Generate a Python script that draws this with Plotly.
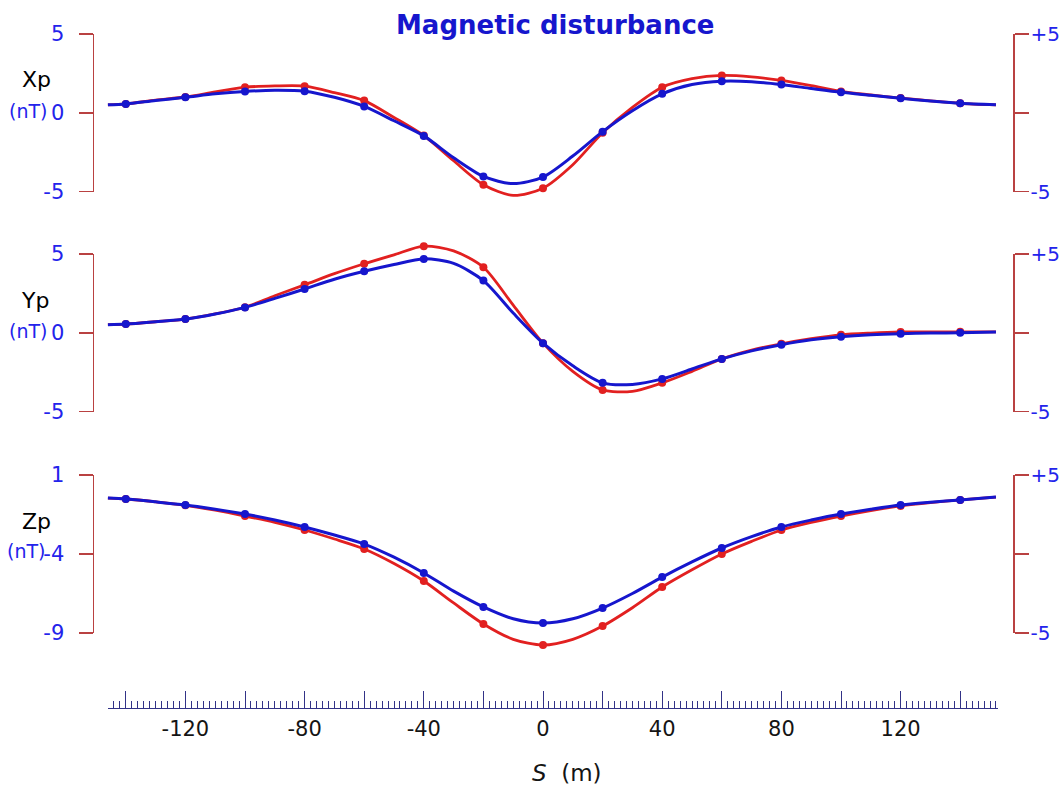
import plotly.graph_objects as go

# ---------------- data ----------------
s_curve = [-146, -140, -130, -120, -110, -100, -90, -80, -70, -60, -50, -40, -30, -20, -10,
           0, 10, 20, 30, 40, 50, 60, 70, 80, 90, 100, 110, 120, 130, 140, 152]

xp_blue = [0.50, 0.56, 0.78, 0.98, 1.20, 1.35, 1.43, 1.37, 0.98, 0.40, -0.51, -1.47, -2.86, -4.04, -4.50,
           -4.08, -2.75, -1.20, 0.13, 1.20, 1.79, 2.00, 1.97, 1.79, 1.54, 1.30, 1.11, 0.92, 0.75, 0.60, 0.50]
xp_red = [0.50, 0.56, 0.80, 1.00, 1.32, 1.62, 1.70, 1.69, 1.28, 0.77, -0.30, -1.45, -3.05, -4.57, -5.25,
          -4.79, -3.30, -1.27, 0.34, 1.62, 2.16, 2.37, 2.28, 2.05, 1.72, 1.35, 1.13, 0.93, 0.76, 0.60, 0.50]

yp_blue = [0.51, 0.55, 0.70, 0.87, 1.19, 1.61, 2.18, 2.78, 3.40, 3.90, 4.33, 4.69, 4.40, 3.31, 1.25,
           -0.66, -2.10, -3.18, -3.28, -2.93, -2.30, -1.66, -1.15, -0.76, -0.45, -0.25, -0.13, -0.06, -0.02, 0.00, 0.05]
yp_red = [0.51, 0.55, 0.70, 0.87, 1.20, 1.62, 2.35, 3.04, 3.75, 4.38, 4.95, 5.50, 5.20, 4.16, 1.75,
          -0.66, -2.45, -3.63, -3.72, -3.18, -2.45, -1.66, -1.10, -0.70, -0.38, -0.13, -0.02, 0.05, 0.06, 0.06, 0.06]

zp_blue = [-0.46, -0.52, -0.70, -0.90, -1.17, -1.47, -1.85, -2.29, -2.80, -3.37, -4.20, -5.20, -6.35, -7.35, -8.10,
           -8.37, -8.10, -7.42, -6.50, -5.46, -4.50, -3.62, -2.90, -2.29, -1.85, -1.47, -1.17, -0.90, -0.72, -0.58, -0.40]
zp_red = [-0.46, -0.52, -0.70, -0.92, -1.23, -1.60, -2.00, -2.48, -3.05, -3.68, -4.60, -5.71, -7.10, -8.43, -9.40,
          -9.76, -9.40, -8.56, -7.40, -6.09, -5.00, -4.00, -3.20, -2.48, -2.00, -1.60, -1.25, -0.96, -0.75, -0.58, -0.40]

panel_names = ["Xp", "Yp", "Zp"]
left_tickvals = [[-5, 0, 5], [-5, 0, 5], [-9, -4, 1]]
left_ticktext = [["-5", "0", "5"], ["-5", "0", "5"], ["-9", "-4", "1"]]
right_tickvals = [-5, 0, 5]
right_ticktext = ["-5", "", "+5"]

ruler_vals = list(range(-140, 141, 20))
ruler_text = ["-120", "-80", "-40", "0", "40", "80", "120"]

# ---------------- layout helpers ----------------
W, H = 1059, 798
BLUE = "rgb(22,22,205)"
RED = "rgb(226,32,32)"
LABEL_BLUE = "rgb(35,35,235)"
BRACKET = "rgb(185,65,65)"
RULER = "rgb(50,50,135)"
FONT = "DejaVu Sans"


def fx(p):
    """window pixel x -> paper fraction"""
    return p / W


def fy(p):
    """window pixel y -> paper fraction"""
    return 1 - p / H


# x scale: 0 m at px 543, 2.98 px per metre
X0, KX = 543.0, 2.98
XL, XR = 94, 1013
x_range = [(XL - X0) / KX, (XR - X0) / KX]

# bracket pixel extents and data-area pixel extents
brackets = [(34, 191.5), (254, 411.5), (475, 633)]
data_dom = [(22, 208), (242, 428), (462, 662)]

fig = go.Figure()

series = [(xp_red, xp_blue), (yp_red, yp_blue), (zp_red, zp_blue)]
mark_idx = [i for i, s in enumerate(s_curve) if s % 20 == 0 and abs(s) <= 140]

layout = dict(
    width=W, height=H, autosize=False,
    margin=dict(l=0, r=0, t=0, b=0, pad=0, autoexpand=False),
    paper_bgcolor="white", plot_bgcolor="rgba(0,0,0,0)",
    showlegend=False,
    font=dict(family=FONT, size=21, color="black"),
    xaxis=dict(domain=[fx(XL), fx(XR)], range=x_range, visible=False, fixedrange=True,
               automargin=False),
)

annotations = []

for p in range(3):
    ydata = f"y{3 * p + 1}" if p > 0 else "y"
    yl = f"y{3 * p + 2}"
    yr = f"y{3 * p + 3}"
    top, bot = brackets[p]
    lo, hi = left_tickvals[p][0], left_tickvals[p][-1]
    k = (bot - top) / (hi - lo)
    dtop, dbot = data_dom[p]
    rng = [lo - (dbot - bot) / k, hi + (top - dtop) / k]

    key_d = "yaxis" if p == 0 else f"yaxis{3 * p + 1}"
    layout[key_d] = dict(domain=[fy(dbot), fy(dtop)], range=rng, visible=False,
                         anchor="x", fixedrange=True, automargin=False)
    common = dict(domain=[fy(bot), fy(top)], anchor="x", showgrid=False, zeroline=False,
                  showline=True, linecolor=BRACKET, linewidth=1.5,
                  ticks="outside", ticklen=14, tickwidth=1.5, tickcolor=BRACKET,
                  fixedrange=True, automargin=False)
    layout[f"yaxis{3 * p + 2}"] = dict(common, side="left", range=[lo, hi],
                                       tickvals=left_tickvals[p], ticktext=left_ticktext[p],
                                       tickfont=dict(family=FONT, size=21, color=LABEL_BLUE),
                                       ticklabelstandoff=10)
    layout[f"yaxis{3 * p + 3}"] = dict(common, side="right", range=[-5, 5],
                                       tickvals=right_tickvals, ticktext=right_ticktext,
                                       tickfont=dict(family=FONT, size=20, color=LABEL_BLUE),
                                       ticklabelstandoff=-2)

    # empty traces so the bracket axes get drawn
    for ya in (yl, yr):
        fig.add_trace(go.Scatter(x=[None], y=[None], xaxis="x", yaxis=ya,
                                 hoverinfo="skip", showlegend=False))

    red, blue = series[p]
    for vals, col, lw in ((red, RED, 2.8), (blue, BLUE, 3.0)):
        fig.add_trace(go.Scatter(
            x=s_curve, y=vals, xaxis="x", yaxis=ydata, mode="lines",
            line=dict(color=col, width=lw, shape="spline", smoothing=0.8),
            hoverinfo="skip"))
        fig.add_trace(go.Scatter(
            x=[s_curve[i] for i in mark_idx], y=[vals[i] for i in mark_idx],
            xaxis="x", yaxis=ydata, mode="markers",
            marker=dict(color=col, size=8), hoverinfo="skip"))

# ruler axis at the bottom
RL, RR = 108, 998
layout["xaxis2"] = dict(
    domain=[fx(RL), fx(RR)], range=[(RL - X0) / KX, (RR - X0) / KX], anchor="y10",
    showline=True, linecolor=RULER, linewidth=1.2, showgrid=False, zeroline=False,
    ticks="inside", ticklen=17, tickwidth=1, tickcolor=RULER,
    tickvals=ruler_vals,
    ticktext=[str(v) if str(v) in ruler_text else "" for v in ruler_vals],
    tickfont=dict(family=FONT, size=21, color="rgb(20,20,20)"),
    ticklabelstandoff=2,
    minor=dict(ticks="inside", dtick=2, ticklen=7, tickwidth=1, tickcolor=RULER),
    fixedrange=True, automargin=False,
)
layout["yaxis10"] = dict(domain=[fy(708), fy(703)], range=[0, 1], visible=False,
                         anchor="x2", fixedrange=True, automargin=False)
fig.add_trace(go.Scatter(x=[None], y=[None], xaxis="x2", yaxis="y10",
                         hoverinfo="skip", showlegend=False))


# text labels
def label(text, x, y, size, color):
    return dict(text=text, x=fx(x), y=fy(y), xref="paper", yref="paper",
                xanchor="center", yanchor="middle", showarrow=False,
                font=dict(family=FONT, size=size, color=color))


annotations.append(label("<b>Magnetic disturbance</b>", 555, 25, 26, "rgb(22,22,205)"))
name_pos = [(36, 79), (35, 300), (36, 521)]
unit_pos = [(28, 111), (28, 331), (26, 551)]
for p in range(3):
    annotations.append(label(panel_names[p], name_pos[p][0], name_pos[p][1], 22, "black"))
    annotations.append(label("(nT)", unit_pos[p][0], unit_pos[p][1], 19, LABEL_BLUE))
annotations.append(label("<i>S</i>  (m)", 567, 773, 23, "rgb(20,20,20)"))
layout["annotations"] = annotations

fig.update_layout(**layout)
# remove the default page margin so the figure fills the window exactly
fig.write_html("out.html",
               config={"displayModeBar": False, "staticPlot": True},
               post_script="document.body.style.margin='0px';"
                           "document.body.style.overflow='hidden';")
